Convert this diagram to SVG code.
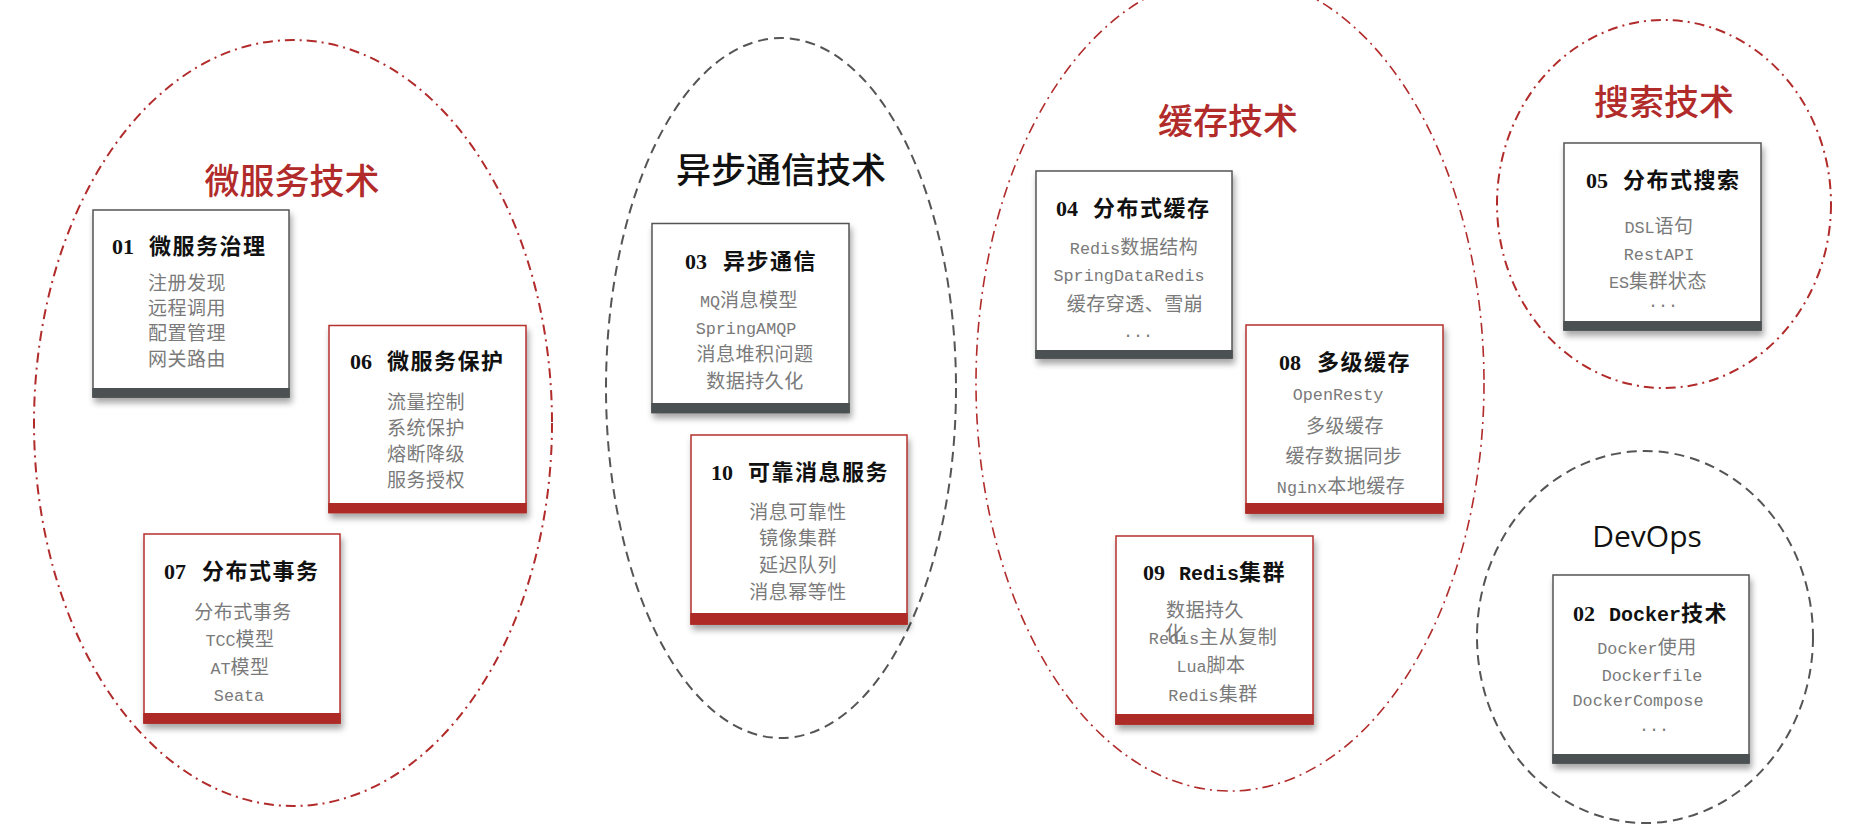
<svg xmlns="http://www.w3.org/2000/svg" width="1862" height="834" viewBox="0 0 1862 834">
<defs>
<filter id="sh" x="-10%" y="-10%" width="125%" height="125%">
<feDropShadow dx="2" dy="5" stdDeviation="3" flood-color="#000" flood-opacity="0.35"/>
</filter>
<style>
.rd{fill:none;stroke:#b22b2b;stroke-width:2;stroke-dasharray:10 5 2 5}
.rd2{fill:none;stroke:#b22b2b;stroke-width:1.6;stroke-dasharray:11 5 2 5}
.gd{fill:none;stroke:#555;stroke-width:2;stroke-dasharray:10 6}
.body{fill:#fff;stroke-width:1.5}
.bd{stroke:#555}
.br{stroke:#b5302d}
.bard{fill:#4b5152}
.barr{fill:#ad2a26}
.gt{font-family:"Noto Sans CJK SC",sans-serif;font-size:35px;text-anchor:middle;font-weight:500}
.red{fill:#b22b2b}
.blk{fill:#111}
.dev{font-family:"Open Sans","Noto Sans",sans-serif;font-size:30px;text-anchor:middle;fill:#111}
.tt{font-family:"Liberation Serif","Noto Sans CJK SC",serif;font-size:22px;font-weight:bold;fill:#111}
.cn{font-family:"Noto Sans CJK SC",sans-serif;letter-spacing:1.5px}
.tm{font-family:"Liberation Mono",monospace;font-size:20px;letter-spacing:0}
.it{font-family:"Noto Sans CJK SC",sans-serif;font-size:19px;fill:#7a7a7a;letter-spacing:0.5px}
.c{text-anchor:middle}
.m{font-family:"Liberation Mono",monospace;font-size:16.8px;letter-spacing:0}
</style>
</defs>

<g id="cluster-microservice">
<ellipse class="rd" cx="293" cy="423" rx="259" ry="383"/>
<text class="gt red" x="292" y="194">微服务技术</text>
</g>
<g id="cluster-async">
<ellipse class="gd" cx="781" cy="388" rx="175" ry="350"/>
<text class="gt blk" x="781" y="183">异步通信技术</text>
</g>
<g id="cluster-cache">
<ellipse class="rd2" cx="1230" cy="383" rx="254" ry="408"/>
<text class="gt red" x="1228" y="134">缓存技术</text>
</g>
<g id="cluster-search">
<ellipse class="rd" cx="1664" cy="204" rx="167" ry="184"/>
<text class="gt red" x="1664" y="115">搜索技术</text>
</g>
<g id="cluster-devops">
<ellipse class="gd" cx="1645" cy="637" rx="168" ry="186"/>
<text class="dev" x="1647" y="547">DevOps</text>
</g>

<g id="connectors"/>

<g id="node-01">
<g filter="url(#sh)">
<rect class="body bd" x="93" y="210" width="196" height="187"/>
<rect class="bard" x="92.25" y="388" width="197.5" height="9.75"/>
</g>
<text class="tt" y="253.5"><tspan x="112">01</tspan><tspan class="cn" x="149">微服务治理</tspan></text>
<text class="it" x="148" y="289.5">注册发现</text>
<text class="it" x="148" y="314.5">远程调用</text>
<text class="it" x="148" y="339.5">配置管理</text>
<text class="it" x="148" y="365.5">网关路由</text>
</g>

<g id="node-06">
<g filter="url(#sh)">
<rect class="body br" x="329" y="325.5" width="197" height="187"/>
<rect class="barr" x="328.25" y="503" width="198.5" height="10.25"/>
</g>
<text class="tt" y="369"><tspan x="350">06</tspan><tspan class="cn" x="387">微服务保护</tspan></text>
<text class="it" x="387" y="408.5">流量控制</text>
<text class="it" x="387" y="435">系统保护</text>
<text class="it" x="387" y="460.5">熔断降级</text>
<text class="it" x="387" y="486.5">服务授权</text>
</g>

<g id="node-07">
<g filter="url(#sh)">
<rect class="body br" x="144" y="534" width="196" height="189"/>
<rect class="barr" x="143.25" y="713" width="197.5" height="10.75"/>
</g>
<text class="tt" y="579"><tspan x="164">07</tspan><tspan class="cn" x="202">分布式事务</tspan></text>
<text class="it c" x="243" y="618.5">分布式事务</text>
<text class="it c" x="240" y="646"><tspan class="m">TCC</tspan>模型</text>
<text class="it c" x="240" y="673.5"><tspan class="m">AT</tspan>模型</text>
<text class="it c" x="239" y="701"><tspan class="m">Seata</tspan></text>
</g>

<g id="node-03">
<g filter="url(#sh)">
<rect class="body bd" x="652" y="223.5" width="197" height="189"/>
<rect class="bard" x="651.25" y="403" width="198.5" height="10.25"/>
</g>
<text class="tt" y="268.5"><tspan x="685">03</tspan><tspan class="cn" x="723">异步通信</tspan></text>
<text class="it c" x="749" y="307"><tspan class="m">MQ</tspan>消息模型</text>
<text class="it c" x="746" y="334"><tspan class="m">SpringAMQP</tspan></text>
<text class="it c" x="755" y="361">消息堆积问题</text>
<text class="it c" x="755" y="388">数据持久化</text>
</g>

<g id="node-10">
<g filter="url(#sh)">
<rect class="body br" x="691" y="435" width="216" height="189"/>
<rect class="barr" x="690.25" y="613" width="217.5" height="11.75"/>
</g>
<text class="tt" y="480"><tspan x="711">10</tspan><tspan class="cn" x="748">可靠消息服务</tspan></text>
<text class="it c" x="798" y="518.5">消息可靠性</text>
<text class="it c" x="798" y="545">镜像集群</text>
<text class="it c" x="798" y="571.5">延迟队列</text>
<text class="it c" x="798" y="598.5">消息幂等性</text>
</g>

<g id="node-04">
<g filter="url(#sh)">
<rect class="body bd" x="1036" y="171" width="196" height="187"/>
<rect class="bard" x="1035.25" y="350" width="197.5" height="8.75"/>
</g>
<text class="tt" y="215.5"><tspan x="1056">04</tspan><tspan class="cn" x="1093">分布式缓存</tspan></text>
<text class="it c" x="1134" y="254"><tspan class="m">Redis</tspan>数据结构</text>
<text class="it c" x="1129" y="281"><tspan class="m">SpringDataRedis</tspan></text>
<text class="it c" x="1135" y="311">缓存穿透、雪崩</text>
<text class="it c" x="1138" y="336.5"><tspan class="m">...</tspan></text>
</g>

<g id="node-08">
<g filter="url(#sh)">
<rect class="body br" x="1246" y="325" width="197" height="188"/>
<rect class="barr" x="1245.25" y="503" width="198.5" height="10.75"/>
</g>
<text class="tt" y="370"><tspan x="1279">08</tspan><tspan class="cn" x="1317">多级缓存</tspan></text>
<text class="it c" x="1338" y="400"><tspan class="m">OpenResty</tspan></text>
<text class="it c" x="1345" y="432.5">多级缓存</text>
<text class="it c" x="1344" y="462.5">缓存数据同步</text>
<text class="it c" x="1341" y="492.5"><tspan class="m">Nginx</tspan>本地缓存</text>
</g>

<g id="node-09">
<g filter="url(#sh)">
<rect class="body br" x="1116" y="536" width="197" height="188"/>
<rect class="barr" x="1115.25" y="714" width="198.5" height="10.75"/>
</g>
<text class="tt" y="580"><tspan x="1143">09</tspan><tspan class="tm" x="1179">Redis</tspan><tspan class="cn">集群</tspan></text>
<text class="it" x="1166" y="616.5">数据持久</text>
<text class="it c" x="1213" y="644"><tspan class="m">Redis</tspan>主从复制</text>
<text class="it" x="1165" y="640">化</text>
<text class="it c" x="1211" y="671.5"><tspan class="m">Lua</tspan>脚本</text>
<text class="it c" x="1213" y="700.5"><tspan class="m">Redis</tspan>集群</text>
</g>

<g id="node-05">
<g filter="url(#sh)">
<rect class="body bd" x="1564" y="143" width="197" height="187"/>
<rect class="bard" x="1563.25" y="321" width="198.5" height="9.75"/>
</g>
<text class="tt" y="187.5"><tspan x="1586">05</tspan><tspan class="cn" x="1623">分布式搜索</tspan></text>
<text class="it c" x="1659" y="232.5"><tspan class="m">DSL</tspan>语句</text>
<text class="it c" x="1659" y="260"><tspan class="m">RestAPI</tspan></text>
<text class="it c" x="1658" y="287.5"><tspan class="m">ES</tspan>集群状态</text>
<text class="it c" x="1663" y="306.5"><tspan class="m">...</tspan></text>
</g>

<g id="node-02">
<g filter="url(#sh)">
<rect class="body bd" x="1553" y="575" width="196" height="188"/>
<rect class="bard" x="1552.25" y="754" width="197.5" height="9.75"/>
</g>
<text class="tt" y="620.5"><tspan x="1573">02</tspan><tspan class="tm" x="1609">Docker</tspan><tspan class="cn">技术</tspan></text>
<text class="it c" x="1647" y="653.5"><tspan class="m">Docker</tspan>使用</text>
<text class="it c" x="1652" y="680.5"><tspan class="m">Dockerfile</tspan></text>
<text class="it c" x="1638" y="706"><tspan class="m">DockerCompose</tspan></text>
<text class="it c" x="1654" y="731"><tspan class="m">...</tspan></text>
</g>
</svg>
